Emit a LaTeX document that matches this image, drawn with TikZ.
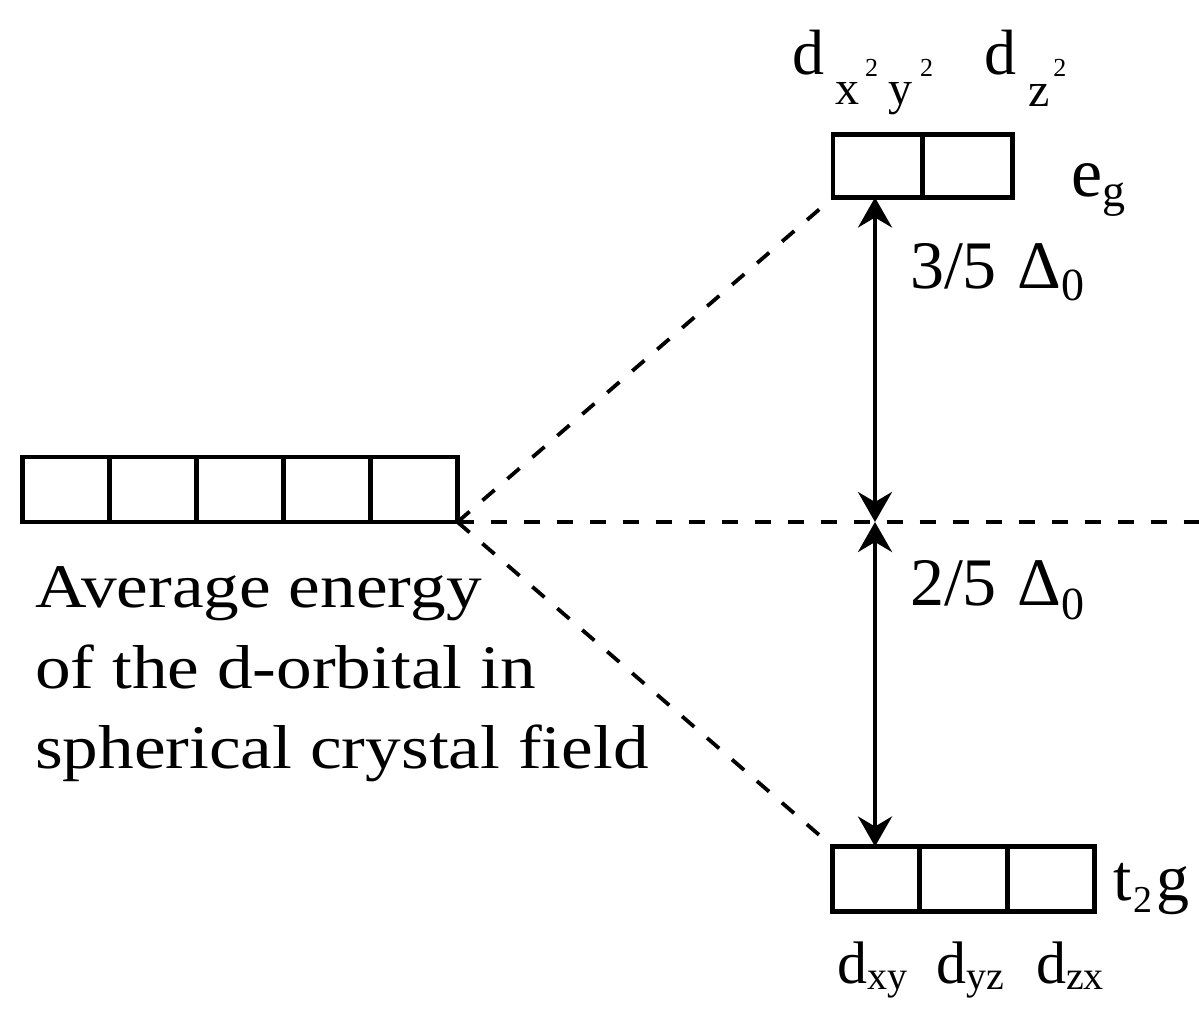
\documentclass[tikz,border=0pt]{standalone}
\usepackage{fontspec}
\setmainfont{Liberation Serif}
\newfontfamily\widefont[FakeStretch=1.15]{Liberation Serif}
\usetikzlibrary{arrows.meta}
\newcommand{\fs}[1]{\fontsize{#1}{#1}\selectfont}
\begin{document}
\begin{tikzpicture}[x=0.5pt,y=-0.5pt,
  cell/.style={draw, line width=2.4pt, inner sep=0pt, outer sep=0pt},
  lcell/.style={cell, minimum width=43.5pt, minimum height=32.5pt},
  ecell/.style={cell, minimum width=44.9pt, minimum height=31.5pt},
  tcell/.style={cell, minimum width=43.7pt, minimum height=32.5pt},
  dashline/.style={line width=1.9pt, dash pattern=on 8pt off 8.5pt},
  gap/.style={line width=2pt, {Stealth[length=15pt,width=17pt,inset=5pt]}-{Stealth[length=15pt,width=17pt,inset=5pt]}},
  lbl/.style={inner sep=0pt, outer sep=0pt, anchor=base west},
  avg/.style={lbl, font=\widefont\fs{31}},
  big/.style={lbl, font=\fs{34}}]
\useasboundingbox (0,0) rectangle (1199,1015);

% left box: five degenerate d-orbitals
\foreach \i/\x in {1/66,2/153,3/240,4/327,5/414}
  \node[lcell] (l\i) at (\x,489.5) {};

% e_g box
\node[ecell] (e1) at (877.9,166) {};
\node[ecell] (e2) at (967.6,166) {};

% t2g box
\node[tcell] (t1) at (876.2,879) {};
\node[tcell] (t2) at (963.5,879) {};
\node[tcell] (t3) at (1050.8,879) {};

% reference level
\coordinate (mid) at (875,522);
\coordinate (rend) at (1199,522);

% dashed connectors
\draw[dashline] (l5.south east) -- (e1.south west);
\draw[dashline] (l5.south east) -- (t1.north west);
\draw[dashline] (l5.south east) -- (rend);

% splitting arrows
\draw[gap] (mid) -- (mid |- e1.south);
\draw[gap] (mid) -- (mid |- t1.north);

% left text
\node[avg] (avg1) at (35,608) {Average energy};
\node[avg] (avg2) at (35,688) {of the d-orbital in};
\node[avg] (avg3) at (35,768) {spherical crystal field};

% splitting labels
\node[big] (three) at (910,289) {3/5\hspace{0.3em}Δ\raisebox{-6pt}{\fs{23}0}};
\node[big] (two) at (910,605) {2/5\hspace{0.3em}Δ\raisebox{-7pt}{\fs{23}0}};

% e_g label
\node[lbl, font=\fs{35}] (eg) at (1071,197) {e\raisebox{-5pt}{\fs{23}g}};

% t2g label
\node[lbl, font=\fs{33}] (t2g) at (1113,900) {t\hspace{1pt}\raisebox{-6pt}{\fs{19}2}\hspace{2pt}g};

% top orbital labels
\node[lbl, font=\fs{32}] (dx) at (792,75) {d};
\node[lbl, font=\fs{24}] (dxsub) at (835,105) {x\hspace{3pt}\raisebox{14pt}{\fs{13}2}\hspace{5pt}y\hspace{4pt}\raisebox{14pt}{\fs{13}2}};
\node[lbl, font=\fs{32}] (dz) at (984,75) {d};
\node[lbl, font=\fs{24}] (dzsub) at (1028,107) {z\hspace{2pt}\raisebox{15pt}{\fs{13}2}};

% bottom orbital labels
\node[lbl, font=\fs{30}] (dxy) at (837,983) {d\raisebox{-3pt}{\fs{20}xy}};
\node[lbl, font=\fs{30}] (dyz) at (936,983) {d\raisebox{-3pt}{\fs{20}yz}};
\node[lbl, font=\fs{30}] (dzx) at (1036,983) {d\raisebox{-3pt}{\fs{20}zx}};
\end{tikzpicture}
\end{document}
